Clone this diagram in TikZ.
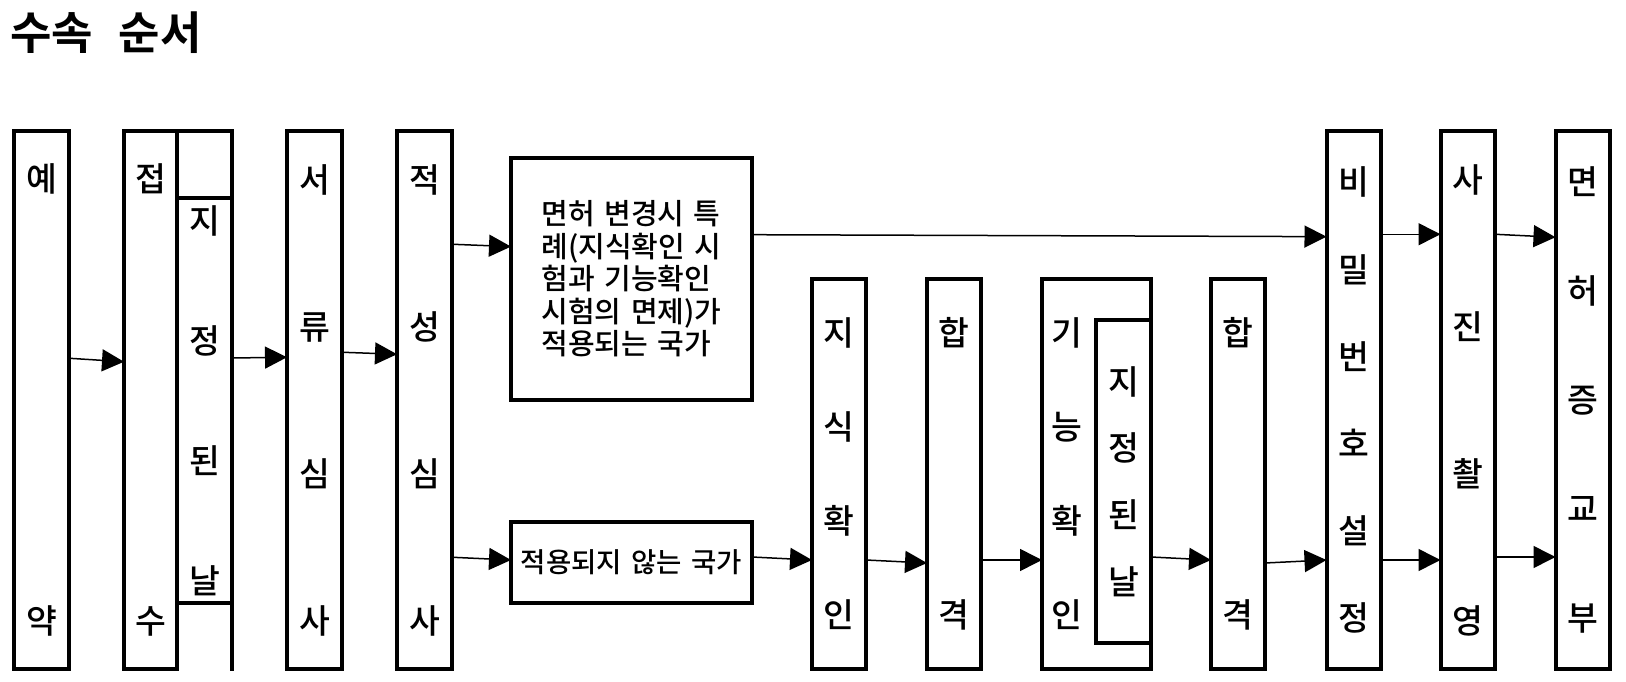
\documentclass[tikz,border=0pt]{standalone}
\usepackage{fontspec}
\setmainfont{Noto Sans CJK KR Medium}[BoldFont={Noto Sans CJK KR Bold}]
\usetikzlibrary{arrows.meta}
\newcommand\widesp{\spaceskip=9.5pt\relax}
\tikzset{
  box/.style={draw, line width=4pt, outer sep=0pt, inner sep=0pt, minimum width=55pt,
    align=center, font=\fontsize{33.5pt}{#1}\selectfont},
  tall/.style={minimum height=537.5pt},
  mid/.style={minimum height=390pt},
  textbox/.style={draw, line width=4pt, outer sep=0pt, inner sep=0pt, minimum width=241pt,
    font=\fontsize{#1}{32.5pt}\selectfont},
  arr/.style={line width=1.5pt, -{Triangle[length=22pt,width=22pt]}},
}
\begin{document}
\begin{tikzpicture}[x=1pt,y=-1pt]
\useasboundingbox (0,0) rectangle (1626,682);

\node[anchor=west, inner sep=0pt, font=\fontsize{45pt}{50pt}\selectfont\bfseries] (title) at (10,33) {\spaceskip=26pt\relax 수속 순서};

% first group
\node[box=442pt, tall] (yeyak) at (41.5,400.25) {예\\약};
\node[box=442pt, tall, minimum width=53pt] (jeopsu) at (150.5,400.25) {접\\수};
\node[box=120pt, minimum height=405pt] (jijeongA) at (204.5,400.5) {지\\정\\된\\날};
\draw[line width=4pt, line cap=rect, line join=miter] (jeopsu.north east) -- (jijeongA.east |- jeopsu.north) -- (jijeongA.east |- jeopsu.south);
\node[box=147pt, tall] (seoryu) at (314.5,400.25) {서\\류\\심\\사};
\node[box=147pt, tall] (jeokseong) at (424.5,400.25) {적\\성\\심\\사};

% branch boxes
\node[textbox=29pt, minimum height=242pt, align=left] (exempt) at (631.5,279) {\widesp 면허 변경시 특\\\widesp 례(지식확인 시\\\widesp 험과 기능확인\\\widesp 시험의 면제)가\\\widesp 적용되는 국가};
\node[textbox=27.5pt, minimum height=81pt] (notapp) at (631.5,562.5) {\widesp 적용되지 않는 국가};

% lower path
\node[box=94pt, mid, minimum width=54pt] (jisik) at (839,474) {지\\식\\확\\인};
\node[box=282pt, mid, minimum width=54pt] (hapA) at (954,474) {합\\격};
\node[box=94pt, mid, align=left, text width=90pt, inner xsep=9.5pt] (gineung) at (1096.5,474) {기\\능\\확\\인};
\node[box=66.7pt, minimum height=323pt] (jijeongB) at (1123.5,481.5) {지\\정\\된\\날};
\node[box=282pt, mid, minimum width=54pt] (hapB) at (1238,474) {합\\격};

% final steps
\node[box=87.2pt, tall, minimum width=54pt] (bimil) at (1353.5,400.25) {비\\밀\\번\\호\\설\\정};
\node[box=147pt, tall, minimum width=54pt] (sajin) at (1467.5,400.25) {사\\진\\촬\\영};
\node[box=109pt, tall, minimum width=54pt] (myeonheo) at (1582.5,400.25) {면\\허\\증\\교\\부};

% connectors
\draw[arr] ([yshift=42pt]yeyak.east) -- ([yshift=38.5pt]jeopsu.west);
\draw[arr] ([yshift=42.5pt]jijeongA.east) -- ([yshift=43pt]seoryu.west);
\draw[arr] ([yshift=48pt]seoryu.east) -- ([yshift=46pt]jeokseong.west);
\draw[arr] ([yshift=156pt]jeokseong.east) -- ([yshift=32.4pt]exempt.west);
\draw[arr] ([yshift=-157pt]jeokseong.east) -- ([yshift=2.5pt]notapp.west);
\draw[arr] ([yshift=44.3pt]exempt.east) -- ([yshift=163.6pt]bimil.west);
\draw[arr] ([yshift=5.5pt]notapp.east) -- ([yshift=-86pt]jisik.west);
\draw[arr] ([yshift=-86pt]jisik.east) -- ([yshift=-89pt]hapA.west);
\draw[arr] ([yshift=-86pt]hapA.east) -- ([yshift=-86pt]gineung.west);
\draw[arr] ([yshift=-75.5pt]jijeongB.east) -- ([yshift=-86pt]hapB.west);
\draw[arr] ([yshift=-89pt]hapB.east) -- ([yshift=-159.75pt]bimil.west);
\draw[arr] ([yshift=166pt]bimil.east) -- ([yshift=166pt]sajin.west);
\draw[arr] ([yshift=-159.75pt]bimil.east) -- ([yshift=-159.75pt]sajin.west);
\draw[arr] ([yshift=166pt]sajin.east) -- ([yshift=163pt]myeonheo.west);
\draw[arr] ([yshift=-156.75pt]sajin.east) -- ([yshift=-156.75pt]myeonheo.west);
\end{tikzpicture}
\end{document}
